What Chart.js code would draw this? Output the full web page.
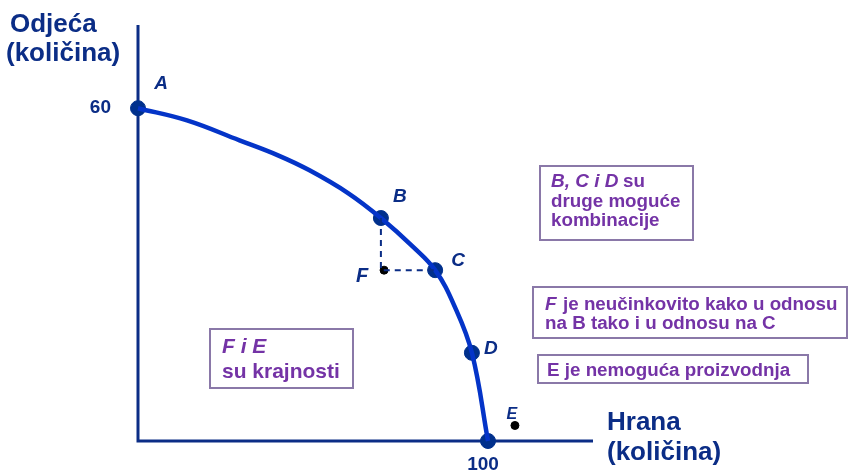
<!DOCTYPE html>
<html>
<head>
<meta charset="utf-8">
<script src="https://cdn.jsdelivr.net/npm/chart.js@4/dist/chart.umd.min.js"></script>
<style>
  html, body { margin: 0; padding: 0; background: #ffffff; }
  #wrap { width: 849px; height: 473px; position: relative; }
</style>
</head>
<body>
<div id="wrap"><canvas id="ppf"></canvas></div>
<script>
// Production possibility frontier (food vs clothing)
const frontierX = [0, 14, 29, 40, 49, 60, 69.4, 78.6, 84.9, 90.3, 95.4, 100];
const frontierY = [60, 57.8, 54.2, 51.5, 48.8, 44.7, 40.2, 35.0, 30.8, 24.5, 15.9, 0];

const pointNames = ["A", "B", "C", "D", ""];
const pointX = [0, 69.4, 84.9, 95.4, 100];
const pointY = [60, 40.2, 30.8, 15.9, 0];

const otherNames = ["F", "E"];
const otherX = [70.3, 107.7];
const otherY = [30.8, 2.8];

const xTicks = [100];
const yTicks = [60];

const NAVY = "#0b2d86";
const PURPLE = "#7433a6";
const FONT = "'Liberation Sans', Arial, sans-serif";

const frontier = frontierX.map((x, i) => ({ x, y: frontierY[i] }));
const named = pointX.map((x, i) => ({ x, y: pointY[i] }));
const others = otherX.map((x, i) => ({ x, y: otherY[i] }));
// dashed guide B -> F -> C
const guide = [
  { x: pointX[1], y: pointY[1] },
  { x: pointX[1], y: pointY[2] },
  { x: pointX[2], y: pointY[2] }
];

// label offsets from their point, in px
const nameOffsets = [[23, -24], [19, -21], [23, -9], [19, -4]];
const otherOffsets = [[-22, 6], [-3, -11]];

const overlay = {
  id: "overlay",
  beforeDatasetsDraw(chart) {
    const { ctx, scales: { x, y } } = chart;
    ctx.save();
    ctx.strokeStyle = NAVY;
    ctx.lineWidth = 3;
    ctx.beginPath();
    ctx.moveTo(x.getPixelForValue(0), y.getPixelForValue(75));
    ctx.lineTo(x.getPixelForValue(0), y.getPixelForValue(0));
    ctx.lineTo(x.getPixelForValue(130), y.getPixelForValue(0));
    ctx.stroke();
    ctx.restore();
  },
  afterDraw(chart) {
    const { ctx, scales: { x, y } } = chart;
    ctx.save();
    ctx.fillStyle = NAVY;
    ctx.textBaseline = "middle";

    // tick labels
    ctx.font = "bold 19px " + FONT;
    ctx.textAlign = "right";
    yTicks.forEach(v => ctx.fillText(String(v), x.getPixelForValue(0) - 27, y.getPixelForValue(v)));
    ctx.textAlign = "center";
    xTicks.forEach(v => ctx.fillText(String(v), x.getPixelForValue(v) - 5, y.getPixelForValue(0) + 24));

    // axis titles
    ctx.font = "bold 26px " + FONT;
    ctx.textAlign = "left";
    ctx.fillText("Odjeća", 10, 25);
    ctx.fillText("(količina)", 6, 54);
    ctx.fillText("Hrana", 607, 423);
    ctx.fillText("(količina)", 607, 453);

    // point labels
    ctx.textAlign = "center";
    ctx.font = "italic bold 19px " + FONT;
    pointNames.forEach((n, i) => {
      if (!n) return;
      ctx.fillText(n, x.getPixelForValue(pointX[i]) + nameOffsets[i][0], y.getPixelForValue(pointY[i]) + nameOffsets[i][1]);
    });
    otherNames.forEach((n, i) => {
      ctx.font = (i === 0 ? "italic bold 20px " : "italic bold 16px ") + FONT;
      ctx.fillText(n, x.getPixelForValue(otherX[i]) + otherOffsets[i][0], y.getPixelForValue(otherY[i]) + otherOffsets[i][1]);
    });

    // text boxes
    ctx.strokeStyle = "#8a78a8";
    ctx.lineWidth = 2;
    ctx.strokeRect(540, 166, 153, 74);
    ctx.strokeRect(533, 287, 314, 51);
    ctx.strokeRect(538, 355, 270, 28);
    ctx.strokeRect(210, 329, 143, 59);

    ctx.textAlign = "left";
    ctx.textBaseline = "alphabetic";
    ctx.fillStyle = PURPLE;
    ctx.font = "italic bold 19px " + FONT;
    ctx.fillText("B, C i D", 551, 187);
    ctx.fillText("F", 545, 310);
    ctx.font = "italic bold 21px " + FONT;
    ctx.fillText("F i E", 222, 353);
    ctx.font = "bold 18.8px " + FONT;
    ctx.fillText("su", 623, 187);
    ctx.fillText("druge moguće", 551, 207);
    ctx.fillText("kombinacije", 551, 226);
    ctx.fillText("je neučinkovito kako u odnosu", 563, 310);
    ctx.fillText("na B tako i u odnosu na C", 545, 329);
    ctx.fillText("E je nemoguća proizvodnja", 547, 376);
    ctx.font = "bold 21px " + FONT;
    ctx.fillText("su krajnosti", 222, 378);
    ctx.restore();
  }
};

new Chart(document.getElementById("ppf"), {
  type: "scatter",
  data: {
    datasets: [
      {
        data: guide,
        showLine: true,
        borderColor: NAVY,
        borderWidth: 2,
        borderDash: [6, 5],
        pointRadius: 0,
        clip: false
      },
      {
        data: frontier,
        showLine: true,
        borderColor: "#0434c8",
        borderWidth: 4.5,
        tension: 0.4,
        pointRadius: 0,
        clip: false
      },
      {
        data: named,
        backgroundColor: "#00308c",
        borderColor: "#00308c",
        pointRadius: 7.5,
        clip: false
      },
      {
        data: others,
        backgroundColor: "#000000",
        borderColor: "#000000",
        pointRadius: 4,
        clip: false
      }
    ]
  },
  options: {
    responsive: true,
    maintainAspectRatio: false,
    animation: false,
    layout: { padding: { left: 138, right: 256, top: 25, bottom: 32 } },
    plugins: { legend: { display: false }, tooltip: { enabled: false } },
    scales: {
      x: { type: "linear", min: 0, max: 130, display: false },
      y: { type: "linear", min: 0, max: 75, display: false }
    }
  },
  plugins: [overlay]
});
</script>
</body>
</html>
